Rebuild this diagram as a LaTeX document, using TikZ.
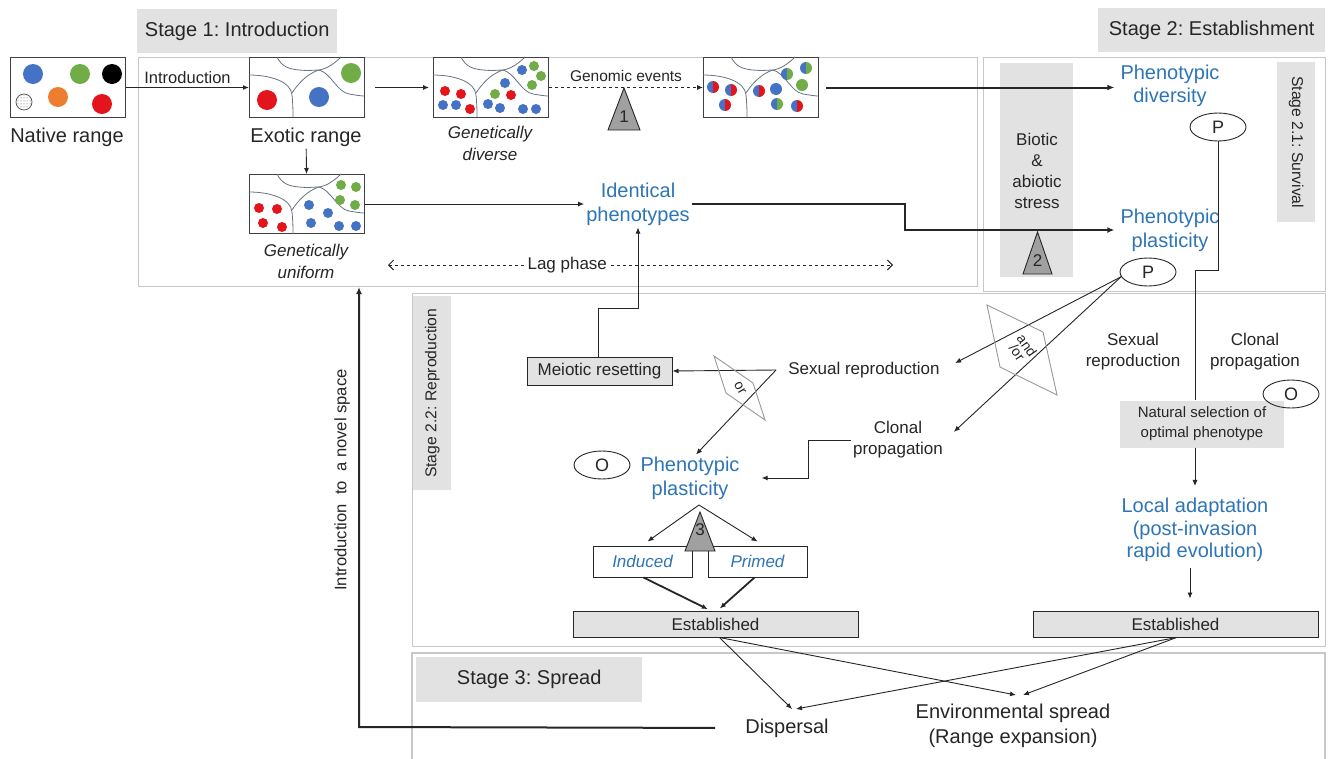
\documentclass[tikz,border=0pt]{standalone}
\usepackage{fontspec}
\setmainfont{Liberation Sans}
\usetikzlibrary{arrows.meta,shapes.geometric,patterns,calc}
\frenchspacing
\definecolor{tblue}{RGB}{46,117,182}
\definecolor{cblue}{RGB}{68,114,196}
\definecolor{cred}{RGB}{228,20,28}
\definecolor{cgreen}{RGB}{112,173,71}
\definecolor{corange}{RGB}{237,125,49}
\definecolor{lgray}{RGB}{226,226,226}
\definecolor{bgray}{RGB}{200,200,200}
\definecolor{mapline}{RGB}{105,115,130}
\definecolor{trigray}{RGB}{160,160,160}
\definecolor{txt}{RGB}{38,38,38}
\newcommand\hdot[4]{%
  \fill[#3] (#1,#2) ++(0,-6) arc[start angle=90,end angle=270,radius=6pt] -- cycle;
  \fill[#4] (#1,#2) ++(0,-6) arc[start angle=90,end angle=-90,radius=6pt] -- cycle;}
\newcommand\dt[4]{\fill[#4] (#1,#2) circle[radius=#3pt];}
\tikzset{
  mapcurves/.pic={
    \draw[mapline,line width=0.8pt] (28,0) .. controls (33,10) and (40,12) .. (50,13) .. controls (60,14) and (65,13) .. (70,13) .. controls (78,12) and (86,6) .. (92,0);
    \draw[mapline,line width=0.8pt] (0,18) .. controls (20,18) and (42,24) .. (43,38) .. controls (44,48) and (44,55) .. (44,60);
    \draw[mapline,line width=0.8pt] (43,36) .. controls (50,25) and (60,16) .. (70,13);
    \draw[mapline,line width=0.8pt] (70,13) .. controls (82,16) and (88,35) .. (100,37) .. controls (106,38) and (112,39) .. (115,39);
  },
  mapbox/.style={draw=black!75, line width=1pt, minimum width=115pt, minimum height=60pt, inner sep=0pt, anchor=north west},
  stagelbl/.style={fill=lgray, inner sep=0pt, anchor=north west, text=txt, font=\fontsize{20}{24}\selectfont},
  frame/.style={draw=bgray, line width=1.1pt},
  lbl/.style={text=txt, align=center, inner sep=2pt, font=\fontsize{17}{21}\selectfont},
  big/.style={text=txt, align=center, inner sep=2pt, font=\fontsize{20}{24}\selectfont},
  btxt/.style={text=tblue, align=center, inner sep=2pt, font=\fontsize{20}{24}\selectfont},
  itx/.style={text=txt, align=center, inner sep=2pt, font=\fontsize{17}{22}\selectfont\itshape},
  arr/.style={draw=txt, line width=0.9pt, -{Latex[length=6pt,width=5pt]}},
  thickarr/.style={draw=txt, line width=2pt, -{Latex[length=7pt,width=6pt]}},
  grbox/.style={draw=txt, fill=lgray, line width=1pt, inner sep=0pt, text=txt, font=\fontsize{17}{20}\selectfont},
  wbox/.style={draw=txt, fill=white, line width=1pt, inner sep=0pt, text=tblue, font=\fontsize{17}{20}\selectfont\itshape},
  pell/.style={draw=txt, line width=0.9pt, ellipse, minimum width=56pt, minimum height=28pt, inner sep=0pt, text=txt, font=\fontsize{18}{18}\selectfont},
  tri/.style={draw=txt, fill=trigray, line width=0.9pt},
  diam/.style={draw=black!40, line width=0.9pt},
}
\begin{document}
\begin{tikzpicture}[x=1pt,y=-1pt]
\useasboundingbox (0,0) rectangle (1333,758);
\fill[white] (0,0) rectangle (1333,758);
% stage labels and frames
\node[stagelbl, minimum width=200pt, minimum height=44pt] (st1) at (137,9) {Stage 1: Introduction};
\node[stagelbl, minimum width=227pt, minimum height=44pt] (st2) at (1098,8) {Stage 2: Establishment};
\node[stagelbl, minimum width=226pt, minimum height=45pt] (st3) at (416,657) {Stage 3: Spread};
\node[frame, minimum width=839pt, minimum height=229pt, inner sep=0pt, anchor=north west] (s1) at (138,57) {};
\node[frame, minimum width=342pt, minimum height=234pt, inner sep=0pt, anchor=north west] (s2) at (983,57) {};
\node[frame, minimum width=913pt, minimum height=353pt, inner sep=0pt, anchor=north west] (s22) at (412,293) {};
\draw[frame] (412,760) -- (412,653) -- (1325,653) -- (1325,760);
\node[fill=lgray, minimum width=38pt, minimum height=160pt, inner sep=0pt, anchor=north west] (s21box) at (1277,62) {};
\node[rotate=-90, text=txt, font=\fontsize{15.7}{18}\selectfont] (s21lbl) at (s21box.center) {Stage 2.1: Survival};
\node[fill=lgray, minimum width=38pt, minimum height=194pt, inner sep=0pt, anchor=north west] (s22box) at (413,296) {};
\node[rotate=90, text=txt, font=\fontsize{15.7}{18}\selectfont] (s22lbl) at (s22box.center) {Stage 2.2:\ Reproduction};
\node[fill=lgray, minimum width=73pt, minimum height=214pt, inner sep=0pt, anchor=north west] (stressbox) at (1000,63) {};
\node[lbl, font=\fontsize{17}{21}\selectfont] (stress) at (1037,171) {Biotic\\\&\\abiotic\\stress};
\draw[tri] (1023,274) -- (1037.5,232) -- (1052,274) -- cycle;
\node[text=txt, font=\fontsize{17}{17}\selectfont] (n2) at (1037.5,261) {2};

% native range
\node[mapbox] (native) at (10,57) {};
\dt{33}{74}{10}{cblue} \dt{80}{74}{10}{cgreen} \dt{112}{74}{10}{black}
\dt{58}{97}{10}{corange} \dt{102}{104}{10}{cred}
\filldraw[draw=black!70, fill=white, line width=0.7pt] (24,102) circle[radius=8pt];
\fill[pattern=dots, pattern color=black!70] (24,102) circle[radius=7.5pt];
\node[big] (nativelbl) at (67,137) {Native range};

% exotic range
\node[mapbox] (exotic) at (249,57) {};
\pic at (249,57) {mapcurves};
\dt{267}{100}{10}{cred} \dt{319}{97}{10}{cblue} \dt{351}{73}{10}{cgreen}
\node[big] (exoticlbl) at (306,137) {Exotic range};

% genetically uniform
\node[mapbox, minimum height=59pt] (uniform) at (249,174) {};
\pic at (249,174) {mapcurves};
\begin{scope}[shift={(249,174)}]
\dt{10}{34}{5}{cred} \dt{28}{35}{5}{cred} \dt{14}{49}{5}{cred} \dt{33}{53}{5}{cred}
\dt{60}{31}{5}{cblue} \dt{79}{39}{5}{cblue} \dt{62}{49}{5}{cblue} \dt{90}{52}{5}{cblue} \dt{107}{52}{5}{cblue}
\dt{92}{11}{5}{cgreen} \dt{107}{13}{5}{cgreen} \dt{91}{26}{5}{cgreen} \dt{106}{31}{5}{cgreen}
\end{scope}
\node[itx] (uniformlbl) at (306,261) {Genetically\\uniform};

% genetically diverse
\node[mapbox] (diverse) at (433,57) {};
\pic at (433,57) {mapcurves};
\begin{scope}[shift={(433,57)}]
\dt{12}{34}{5}{cred} \dt{28}{37}{5}{cred} \dt{37}{52}{5}{cred} \dt{78}{38}{5}{cred}
\dt{10}{48}{5}{cblue} \dt{23}{48}{5}{cblue} \dt{89}{13}{5}{cblue} \dt{72}{26}{5}{cblue} \dt{55}{47}{5}{cblue} \dt{67}{51}{5}{cblue} \dt{90}{52}{5}{cblue} \dt{103}{52}{5}{cblue}
\dt{101}{9}{5}{cgreen} \dt{108}{19}{5}{cgreen} \dt{99}{28}{5}{cgreen} \dt{62}{37}{5}{cgreen}
\end{scope}
\node[itx] (diverselbl) at (490,143) {Genetically\\diverse};

% mixed genotypes
\node[mapbox] (mixed) at (703,57) {};
\pic at (703,57) {mapcurves};
\begin{scope}[shift={(703,57)}]
\hdot{10}{30}{cblue}{cred} \hdot{28}{33}{cblue}{cred} \hdot{22}{48}{cblue}{cred}
\hdot{56}{34}{cblue}{cred} \dt{73}{32}{6}{cblue} \hdot{74}{47}{cblue}{cgreen}
\hdot{94}{49}{cblue}{cred} \hdot{84}{17}{cblue}{cgreen} \hdot{103}{11}{cblue}{cgreen}
\dt{99}{28}{6}{cgreen}
\end{scope}

% stage 1 connectors
\draw[arr, line width=1.4pt] (native) -- node[lbl, above=1pt, pos=0.5, font=\fontsize{16.5}{18}\selectfont] (introlbl) {Introduction} (exotic);
\draw[arr] (exoticlbl) -- (uniform);
\draw[arr, shorten <=10pt, shorten >=4pt] (exotic) -- (diverse);
\draw[arr, dashed] (diverse) -- node[lbl, above=3pt, font=\fontsize{15.5}{17}\selectfont] (genlbl) {Genomic events} (mixed);
\draw[tri] (608,130) -- (624,88) -- (640,130) -- cycle;
\node[text=txt, font=\fontsize{17}{17}\selectfont] (n1) at (624,117) {1};

\node[btxt] (identical) at (638,204) {Identical\\phenotypes};
\draw[arr] (uniform) -- (identical.west |- uniform.east);

\coordinate (lagL) at (388,265);
\coordinate (lagR) at (893,265);
\draw[draw=txt, line width=0.9pt, dashed, {Straight Barb[length=5pt]}-{Straight Barb[length=5pt]}] (lagL) -- node[lbl, fill=white, pos=0.355, inner sep=3pt] (laglbl) {Lag phase} (lagR);

% stage 2.1
\node[btxt, font=\fontsize{20}{23}\selectfont] (phendiv) at (1170,86) {Phenotypic\\diversity};
\node[btxt] (phenplast) at (1170,230) {Phenotypic\\plasticity};
\draw[thickarr, shorten <=7pt, shorten >=4pt] (mixed.east) -- (phendiv.west |- mixed.east);
\coordinate (bend) at (905,204);
\draw[thickarr, shorten >=4pt] (identical.east |- bend) -- (bend) -- (bend |- phenplast.west) -- (phenplast.west);
\node[pell] (p1) at (1218,127) {P};
\node[pell] (p2) at (1148,272) {P};

% stage 2.1 right branch
\node[fill=lgray, minimum width=164pt, minimum height=47pt, inner sep=0pt, text=txt, align=center, font=\fontsize{15}{20}\selectfont] (natsel) at (1202,424) {Natural selection of\\optimal phenotype};
\coordinate (jog) at (1195,270);
\draw[draw=txt, line width=0.9pt] (p1.south) |- (jog) -- (jog |- natsel.north);
\node[lbl] (sexr) at (1133,352) {Sexual\\reproduction};
\node[lbl] (clonr) at (1255,352) {Clonal\\propagation};
\node[pell] (o1) at (1291,394) {O};
\node[btxt, font=\fontsize{20}{22.5}\selectfont] (localad) at (1195,530) {Local adaptation\\(post-invasion\\rapid evolution)};
\draw[arr, shorten >=10pt] (jog |- natsel.south) -- (jog |- localad.north);
\node[grbox, minimum width=285pt, minimum height=26pt] (estR) at (1175.5,624) {Established};
\draw[arr, shorten <=4pt, shorten >=12pt] (localad.south -| 1190,0) -- (estR.north -| 1190,0);

% stage 2.2
\node[grbox, minimum width=145pt, minimum height=28pt] (meio) at (599.5,371) {Meiotic resetting};
\node[lbl] (sexm) at (864,370) {Sexual reproduction};
\node[lbl] (clonm) at (898,440) {Clonal\\propagation};
\node[btxt] (phenp2) at (690,478) {Phenotypic\\plasticity};
\node[pell] (o2) at (602,465) {O};
\coordinate (orj) at (776,370);
\coordinate (mj) at (638,308);
\draw[arr] (meio.north -| 598,0) |- (mj) -- (identical.south);
\draw[arr] (orj) -- (meio.east);
\draw[arr] (orj) -- ([xshift=6pt]phenp2.north);
\draw[arr, shorten >=20pt] (clonm.west) -- ++(-42,0) |- (phenp2.east);
\draw[arr, shorten >=15pt] (p2.190) -- (sexm.east);
\draw[arr, shorten >=12pt] (p2.190) -- (clonm.east);
% or diamond
\draw[diam] (714,356) -- (753,383) -- (765,420) -- (726,393) -- cycle;
\node[text=txt, rotate=-60, inner sep=0pt, font=\fontsize{14}{14}\selectfont] (orlbl) at (740,388) {or};
% and/or diamond
\draw[diam] (987,305) -- (1043,332) -- (1057,395) -- (1000,367) -- cycle;
\node[text=txt, rotate=-55, inner sep=0pt, align=center, font=\fontsize{14}{12}\selectfont] (andor) at (1022,349) {and\\/or};

% induced / primed
\coordinate (apex) at (699,505);
\node[wbox, minimum width=99pt, minimum height=31pt] (ind) at (642.5,561.5) {Induced};
\node[wbox, minimum width=99pt, minimum height=31pt] (prim) at (757.5,561.5) {Primed};
\draw[arr] (apex) -- ([xshift=5pt,yshift=4pt]ind.north);
\draw[arr] (apex) -- ([yshift=4pt]prim.north);
\draw[tri] (685,551) -- (700,512) -- (715,551) -- cycle;
\node[text=txt, font=\fontsize{17}{17}\selectfont] (n3) at (700,530) {3};
\node[grbox, minimum width=285pt, minimum height=26pt] (estL) at (715.5,624) {Established};
\draw[arr, line width=1.8pt, shorten >=3pt] ([xshift=1pt]ind.south) -- ([xshift=-5pt]estL.north);
\draw[arr, line width=1.8pt, shorten >=3pt] ([xshift=-3pt]prim.south) -- ([xshift=2pt]estL.north);

% stage 3
\node[big] (disp) at (787,728) {Dispersal};
\node[big, font=\fontsize{20}{25}\selectfont] (env) at (1013,726) {Environmental spread\\(Range expansion)};
\draw[arr] ([xshift=4pt]estL.south) -- (792,709);
\draw[arr] ([xshift=4pt]estL.south) -- (1016,695);
\draw[arr] ([xshift=1pt]estR.south) -- (796,709);
\draw[arr] ([xshift=1pt]estR.south) -- (1023,695);
\coordinate (nv) at (359,727);
\draw[thickarr, shorten <=28pt] (disp.west) -- (nv) -- (nv |- s1.south);
\node[rotate=90, text=txt, font=\fontsize{16.6}{18}\selectfont] (novel) at (342,480) {Introduction\ \ to\ \ a novel space};
\end{tikzpicture}
\end{document}
